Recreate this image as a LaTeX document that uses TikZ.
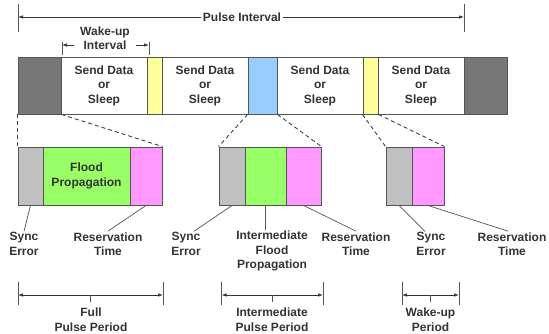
\documentclass[tikz,border=0pt]{standalone}
\usepackage{fontspec}
\setmainfont{Liberation Sans}
\usetikzlibrary{arrows.meta,calc}

\definecolor{slotgray}{HTML}{777777}
\definecolor{syncgray}{HTML}{C0C0C0}
\definecolor{wakeyellow}{HTML}{FFFF99}
\definecolor{floodblue}{HTML}{99CCFF}
\definecolor{floodgreen}{HTML}{99FF66}
\definecolor{resvpink}{HTML}{FF99FF}
\definecolor{edgegray}{HTML}{555555}
\definecolor{inkgray}{HTML}{333333}

\tikzset{
  txt/.style={font=\bfseries\fontsize{12}{14.5}\selectfont, text=inkgray, align=center},
  slot/.style={txt, draw=edgegray, line width=0.9pt, minimum height=57pt, inner sep=0pt},
  part/.style={txt, draw=edgegray, line width=0.9pt, minimum height=58pt, inner sep=0pt},
  lbl/.style={txt, inner sep=1pt},
  leader/.style={draw=edgegray, line width=0.7pt},
  zoomline/.style={draw=black!75, line width=0.9pt, dash pattern=on 4pt off 3pt},
  dim/.style={{Latex[length=5pt,width=3.5pt]}-{Latex[length=5pt,width=3.5pt]}, draw=inkgray, line width=0.7pt},
  dimtick/.style={draw=edgegray, line width=0.7pt},
}

\begin{document}
\begin{tikzpicture}[x=1pt,y=-1pt]
  \useasboundingbox (0,0) rectangle (549,333);
  % one pulse interval
  \node[slot, fill=slotgray, minimum width=43pt] (g1) at (39.5,85.5) {};
  \node[slot, fill=white, minimum width=86pt] (s1) at (104,85.5) {Send Data\\or\\Sleep};
  \node[slot, fill=wakeyellow, minimum width=15pt] (y1) at (154.5,85.5) {};
  \node[slot, fill=white, minimum width=86pt] (s2) at (205,85.5) {Send Data\\or\\Sleep};
  \node[slot, fill=floodblue, minimum width=29pt] (b1) at (262.5,85.5) {};
  \node[slot, fill=white, minimum width=86pt] (s3) at (320,85.5) {Send Data\\or\\Sleep};
  \node[slot, fill=wakeyellow, minimum width=15pt] (y2) at (370.5,85.5) {};
  \node[slot, fill=white, minimum width=86pt] (s4) at (421,85.5) {Send Data\\or\\Sleep};
  \node[slot, fill=slotgray, minimum width=43pt] (g2) at (485.5,85.5) {};

  % expanded periods
  \node[part, fill=syncgray, minimum width=25pt] (sy1) at (30.5,176) {};
  \node[part, fill=floodgreen, minimum width=87pt] (fl1) at (86.5,176) {Flood\\Propagation};
  \node[part, fill=resvpink, minimum width=32pt] (rs1) at (146,176) {};
  \node[part, fill=syncgray, minimum width=26pt] (sy2) at (232,176) {};
  \node[part, fill=floodgreen, minimum width=41pt] (fl2) at (265.5,176) {};
  \node[part, fill=resvpink, minimum width=35pt] (rs2) at (303.5,176) {};
  \node[part, fill=syncgray, minimum width=26pt] (sy3) at (399,176) {};
  \node[part, fill=resvpink, minimum width=32pt] (rs3) at (428,176) {};

  \draw[zoomline] (g1.south west) -- (sy1.north west);
  \draw[zoomline] (g1.south east) -- (rs1.north east);
  \draw[zoomline] (b1.south west) -- (sy2.north west);
  \draw[zoomline] (b1.south east) -- (rs2.north east);
  \draw[zoomline] (y2.south west) -- (sy3.north west);
  \draw[zoomline] (y2.south east) -- (rs3.north east);

  % part labels
  \node[lbl] (se1) at (24,244) {Sync\\Error};
  \node[lbl] (rt1) at (108,244) {Reservation\\Time};
  \node[lbl] (se2) at (186,244) {Sync\\Error};
  \node[lbl] (ifp) at (272,251) {Intermediate\\Flood\\Propagation};
  \node[lbl] (rt2) at (356,244) {Reservation\\Time};
  \node[lbl] (se3) at (431,244) {Sync\\Error};
  \node[lbl] (rt3) at (512,244) {Reservation\\Time};
  \draw[leader] (sy1.south) -- (se1.north);
  \draw[leader] (rs1.south) -- (rt1.north);
  \draw[leader] (sy2.south) -- ([xshift=8pt]se2.north);
  \draw[leader] (fl2.south) -- (fl2.south |- ifp.north);
  \draw[leader] (rs2.south) -- (rt2.north);
  \draw[leader] (sy3.south) -- ([xshift=-6pt]se3.north);
  \draw[leader] (rs3.south) -- ([xshift=-4pt]rt3.north);

  % intervals on top
  \coordinate (pi-a) at (18,17);
  \coordinate (pi-b) at (464,17);
  \draw[dimtick] ([yshift=13pt]pi-a) -- ([yshift=-15pt]pi-a);
  \draw[dimtick] ([yshift=13pt]pi-b) -- ([yshift=-15pt]pi-b);
  \draw[dim] (pi-a) -- (pi-b);
  \node[lbl, fill=white, inner xsep=2pt] (pil) at (242,17) {Pulse Interval};

  \coordinate (wi-a) at (62,45);
  \coordinate (wi-b) at (149,45);
  \draw[dimtick] ([yshift=3pt]wi-a) -- ([yshift=-10pt]wi-a);
  \draw[dimtick] ([yshift=3pt]wi-b) -- ([yshift=-10pt]wi-b);
  \draw[dim] (wi-a) -- (wi-b);
  \node[lbl, fill=white, inner xsep=6pt] (wil) at (105,38) {Wake-up\\Interval};

  % period lengths
  \coordinate (fp-a) at (18,295);
  \coordinate (fp-b) at (163,295);
  \draw[dimtick] ([yshift=13pt]fp-a) -- ([yshift=-10pt]fp-a);
  \draw[dimtick] ([yshift=13pt]fp-b) -- ([yshift=-10pt]fp-b);
  \draw[dim] (fp-a) -- (fp-b);
  \draw[dimtick] ($(fp-a)!0.5!(fp-b)$) -- ++(0,7);
  \node[lbl] (fpl) at (91,319.5) {Full\\Pulse Period};

  \coordinate (ip-a) at (221.5,295);
  \coordinate (ip-b) at (323,295);
  \draw[dimtick] ([yshift=13pt]ip-a) -- ([yshift=-10pt]ip-a);
  \draw[dimtick] ([yshift=13pt]ip-b) -- ([yshift=-10pt]ip-b);
  \draw[dim] (ip-a) -- (ip-b);
  \draw[dimtick] ($(ip-a)!0.5!(ip-b)$) -- ++(0,7);
  \node[lbl] (ipl) at (272,319.5) {Intermediate\\Pulse Period};

  \coordinate (wp-a) at (402,295);
  \coordinate (wp-b) at (459,295);
  \draw[dimtick] ([yshift=13pt]wp-a) -- ([yshift=-10pt]wp-a);
  \draw[dimtick] ([yshift=13pt]wp-b) -- ([yshift=-10pt]wp-b);
  \draw[dim] (wp-a) -- (wp-b);
  \draw[dimtick] ($(wp-a)!0.5!(wp-b)$) -- ++(0,7);
  \node[lbl] (wpl) at (430.5,319.5) {Wake-up\\Period};
\end{tikzpicture}
\end{document}
